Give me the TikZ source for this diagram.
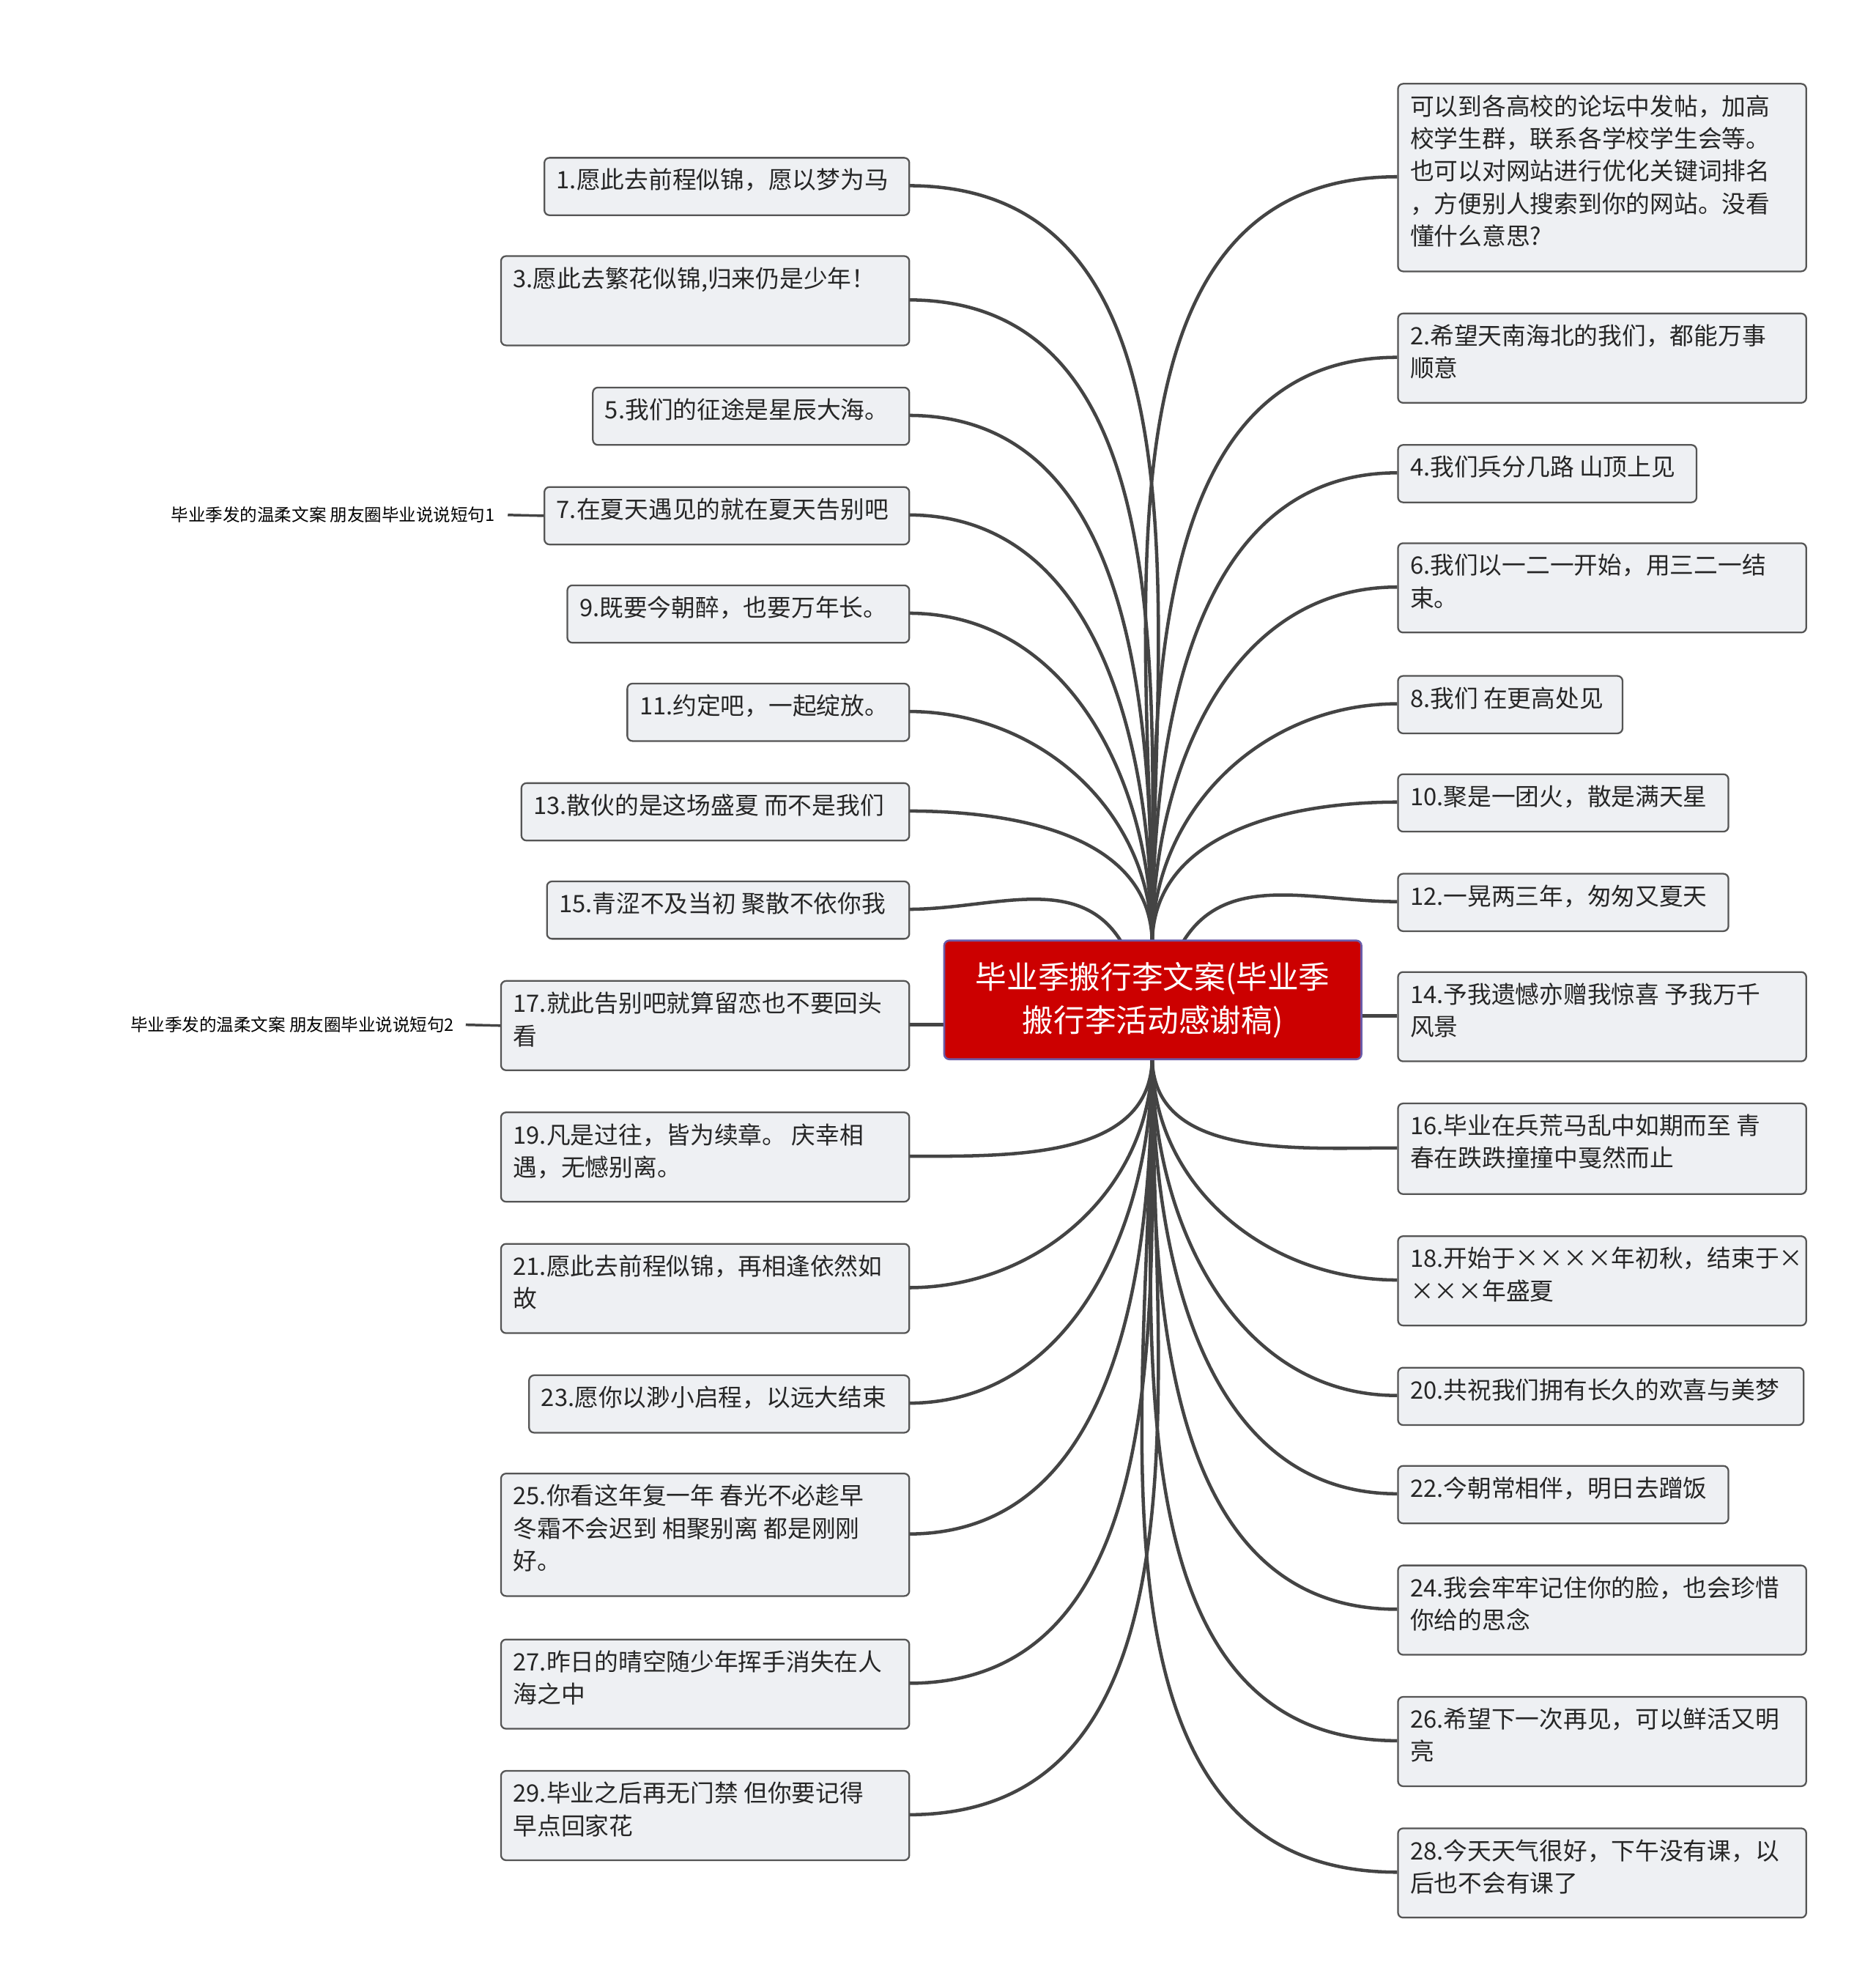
\documentclass[tikz,border=0pt]{standalone}
\usepackage{fontspec}
\setmainfont{Noto Sans CJK SC}
\XeTeXlinebreaklocale "zh"
\XeTeXlinebreakskip=0pt plus 1pt
\definecolor{boxfill}{HTML}{EEF0F3}
\definecolor{boxline}{HTML}{555555}
\definecolor{conncol}{HTML}{444444}
\definecolor{redc}{HTML}{CC0000}
\definecolor{redline}{HTML}{6B5BA8}
\tikzset{
  boxst/.style={draw=boxline,fill=boxfill,line width=1.3pt,rounded corners=4pt,inner sep=0pt},
  txt/.style={inner sep=0pt,align=left,font=\fontsize{18.8}{25.5}\selectfont,text=black!85},
  conn/.style={draw=conncol,line width=2.6pt},
  side/.style={inner sep=0pt,font=\fontsize{13.5}{16}\selectfont,anchor=east}
}
\newcommand\mybox[6]{%
  \node[boxst,minimum width=#4-#2,minimum height=#5-#3,anchor=north west] (#1) at (#2,#3) {};
  \node[txt,anchor=north west] at ([xshift=10pt,yshift=-9pt]#1.north west) {#6};}
\begin{document}
\begin{tikzpicture}[x=1pt,y=-1pt]
\useasboundingbox[fill=white] (0,0) rectangle (1470,1557);
\coordinate (ct) at (903,740);
\coordinate (cb) at (903,828);
\foreach \y in {145.5,235,325.5,403.5,480.5,557.5,635.5}
  \draw[conn] (ct) to[out=90,in=0] (712,\y);
\draw[conn] (880,740) to[out=120,in=0] (712,712.5);
\foreach \y in {906,1009,1099.5,1202,1319,1422}
  \draw[conn] (cb) to[out=-90,in=0] (712,\y);
\foreach \y in {138.5,280,370.5,460,551.5,628.5}
  \draw[conn] (ct) to[out=90,in=180] (1095,\y);
\draw[conn] (926,740) to[out=60,in=180] (1095,706.5);
\foreach \y in {899.5,1003,1093.5,1170.5,1261,1364,1467}
  \draw[conn] (cb) to[out=-90,in=180] (1095,\y);
\draw[conn] (712,803) -- (740,803);
\draw[conn] (1067,796) -- (1095,796);
% left boxes
\mybox{n1}{426}{123}{712}{168}{1.愿此去前程似锦，愿以梦为马}
\mybox{n3}{392}{200}{712}{270}{3.愿此去繁花似锦,归来仍是少年！}
\mybox{n5}{464}{303}{712}{348}{5.我们的征途是星辰大海。}
\mybox{n7}{426}{381}{712}{426}{7.在夏天遇见的就在夏天告别吧}
\mybox{n9}{444}{458}{712}{503}{9.既要今朝醉，也要万年长。}
\mybox{n11}{491}{535}{712}{580}{11.约定吧，一起绽放。}
\mybox{n13}{408}{613}{712}{658}{13.散伙的是这场盛夏 而不是我们}
\mybox{n15}{428}{690}{712}{735}{15.青涩不及当初 聚散不依你我}
\mybox{n17}{392}{768}{712}{838}{17.就此告别吧就算留恋也不要回头\\看}
\mybox{n19}{392}{871}{712}{941}{19.凡是过往，皆为续章。 庆幸相\\遇，无憾别离。}
\mybox{n21}{392}{974}{712}{1044}{21.愿此去前程似锦，再相逢依然如\\故}
\mybox{n23}{414}{1077}{712}{1122}{23.愿你以渺小启程，以远大结束}
\mybox{n25}{392}{1154}{712}{1250}{25.你看这年复一年 春光不必趁早\\冬霜不会迟到 相聚别离 都是刚刚\\好。}
\mybox{n27}{392}{1284}{712}{1354}{27.昨日的晴空随少年挥手消失在人\\海之中}
\mybox{n29}{392}{1387}{712}{1457}{29.毕业之后再无门禁 但你要记得\\早点回家花}
% right boxes
\mybox{m0}{1095}{65}{1415}{212}{可以到各高校的论坛中发帖，加高\\校学生群，联系各学校学生会等。\\也可以对网站进行优化关键词排名\\，方便别人搜索到你的网站。没看\\懂什么意思?}
\mybox{m2}{1095}{245}{1415}{315}{2.希望天南海北的我们，都能万事\\顺意}
\mybox{m4}{1095}{348}{1329}{393}{4.我们兵分几路 山顶上见}
\mybox{m6}{1095}{425}{1415}{495}{6.我们以一二一开始，用三二一结\\束。}
\mybox{m8}{1095}{529}{1271}{574}{8.我们 在更高处见}
\mybox{m10}{1095}{606}{1354}{651}{10.聚是一团火，散是满天星}
\mybox{m12}{1095}{684}{1354}{729}{12.一晃两三年，匆匆又夏天}
\mybox{m14}{1095}{761}{1415}{831}{14.予我遗憾亦赠我惊喜 予我万千\\风景}
\mybox{m16}{1095}{864}{1415}{935}{16.毕业在兵荒马乱中如期而至 青\\春在跌跌撞撞中戛然而止}
\mybox{m18}{1095}{968}{1415}{1038}{18.开始于××××年初秋，结束于×\\×××年盛夏}
\mybox{m20}{1095}{1071}{1413}{1116}{20.共祝我们拥有长久的欢喜与美梦}
\mybox{m22}{1095}{1148}{1354}{1193}{22.今朝常相伴，明日去蹭饭}
\mybox{m24}{1095}{1226}{1415}{1296}{24.我会牢牢记住你的脸，也会珍惜\\你给的思念}
\mybox{m26}{1095}{1329}{1415}{1399}{26.希望下一次再见，可以鲜活又明\\亮}
\mybox{m28}{1095}{1432}{1415}{1502}{28.今天天气很好，下午没有课，以\\后也不会有课了}
% center
\node[draw=redline,fill=redc,line width=1.5pt,rounded corners=4pt,minimum width=327,minimum height=93,align=center,text=white,font=\fontsize{24.5}{34}\selectfont,inner sep=0pt] (c) at (903.5,783.5) {毕业季搬行李文案(毕业季\\搬行李活动感谢稿)};
% side labels
\node[side] (s1) at (388,403.5) {毕业季发的温柔文案 朋友圈毕业说说短句1};
\draw[conn,line width=2pt] (s1.east) ++(10,0) coordinate (s1e) -- (n7.west);
\node[side] (s2) at (356,803) {毕业季发的温柔文案 朋友圈毕业说说短句2};
\draw[conn,line width=2pt] (s2.east) ++(9,0) coordinate (s2e) -- (n17.west);
\end{tikzpicture}
\end{document}
